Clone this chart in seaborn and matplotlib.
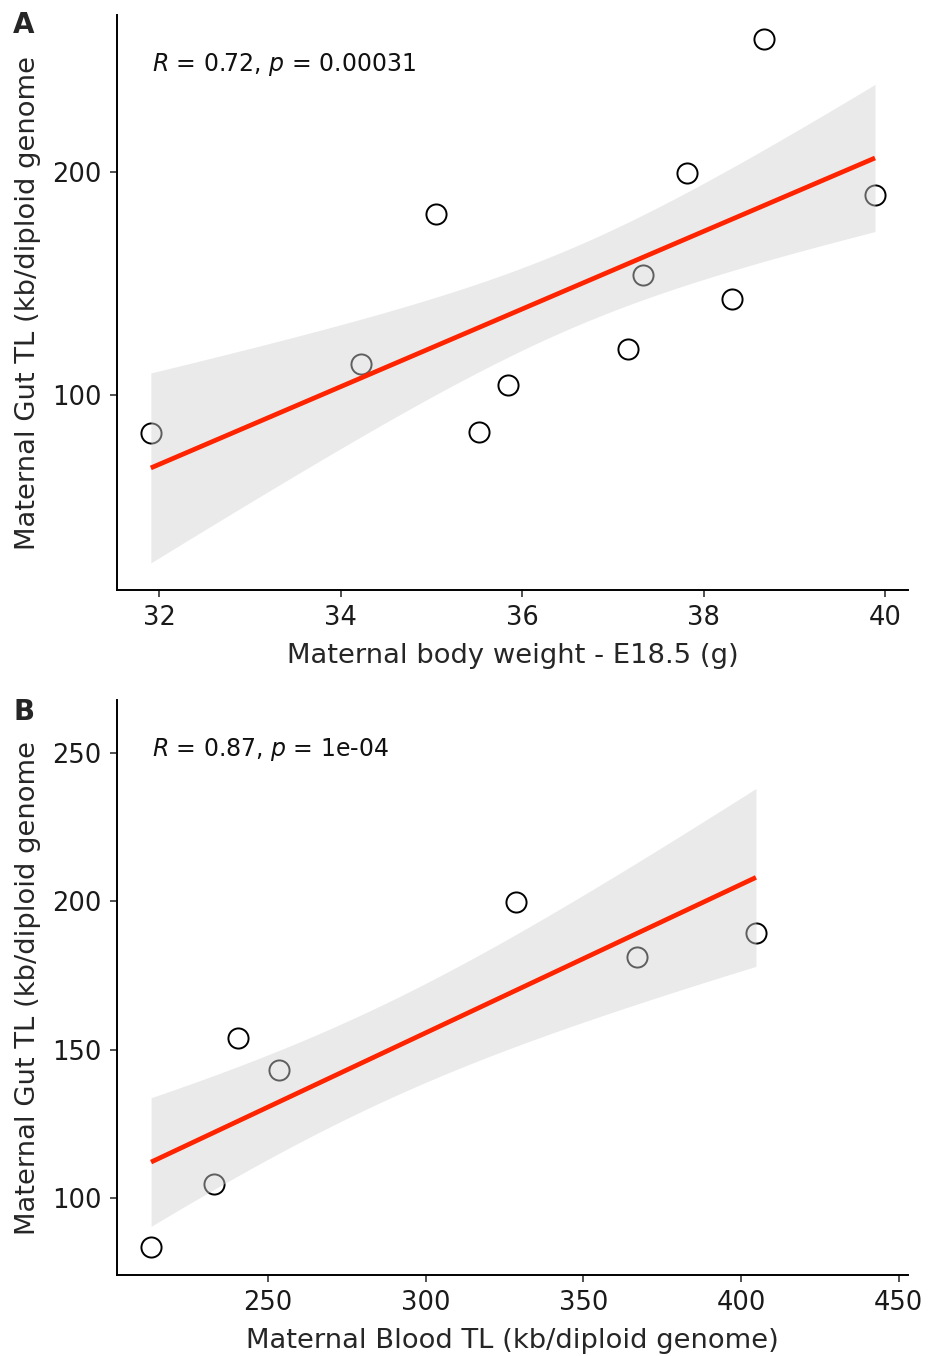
import numpy as np
import pandas as pd
import seaborn as sns
import matplotlib
matplotlib.use("Agg")
import matplotlib.pyplot as plt

# ---- data ----
weight_g = [31.91, 34.23, 35.05, 35.53, 35.85, 37.17, 37.33, 37.82, 38.31, 38.67, 39.89]
gut_tl_a = [83.0, 113.9, 181.2, 83.4, 104.5, 120.6, 153.8, 199.6, 143.0, 259.6, 189.7]

blood_tl = [212.9, 232.9, 240.5, 253.5, 328.6, 367.0, 404.7]
gut_tl_b = [83.5, 104.7, 154.0, 143.3, 199.7, 181.1, 189.5]

# fitted regression line (value at the ends of the x range) and 95% CI
# half-widths
fit_x_a = [31.91, 39.89]
fit_y_a = [67.3, 206.3]
ci_x_a = [31.91, 36.0, 39.89]
ci_half_a = [42.6, 18.5, 33.0]

fit_x_b = [212.9, 404.7]
fit_y_b = [112.1, 208.1]
ci_x_b = [212.9, 309.0, 404.7]
ci_half_b = [21.7, 17.2, 30.0]

stat_a = r"$\it{R}$ = 0.72, $\it{p}$ = 0.00031"
stat_b = r"$\it{R}$ = 0.87, $\it{p}$ = 1e-04"

xticks_a = [32, 34, 36, 38, 40]
yticks_a = [100, 200]
xticks_b = [250, 300, 350, 400, 450]
yticks_b = [100, 150, 200, 250]

xlab_a = "Maternal body weight - E18.5 (g)"
xlab_b = "Maternal Blood TL (kb/diploid genome)"
ylab = "Maternal Gut TL (kb/diploid genome"

sns.set_theme(style="ticks")
plt.rcParams['font.family'] = ['DejaVu Sans']
plt.rcParams['mathtext.fontset'] = 'dejavusans'

LINE = '#FF2400'
RIB = '#D2D2D2'


def band(fit_x, fit_y, ci_x, ci_half, n=200):
    xg = np.linspace(fit_x[0], fit_x[1], n)
    slope = (fit_y[1] - fit_y[0]) / (fit_x[1] - fit_x[0])
    fit = fit_y[0] + slope * (xg - fit_x[0])
    # OLS confidence band is hyperbolic: h^2 is quadratic in x
    coef = np.polyfit(ci_x, np.square(ci_half), 2)
    h = np.sqrt(np.clip(np.polyval(coef, xg), 0, None))
    return xg, fit, fit - h, fit + h


def panel(ax, x, y, fit_x, fit_y, ci_x, ci_half, xlab, xticks, yticks,
          xlim, ylim, stat, letter, letter_top):
    df = pd.DataFrame({"x": x, "y": y})
    sns.scatterplot(data=df, x="x", y="y", ax=ax, s=210, facecolor='white',
                    edgecolor='black', linewidth=1.4, zorder=2)
    xg, fit, lo, hi = band(fit_x, fit_y, ci_x, ci_half)
    ax.fill_between(xg, lo, hi, color=RIB, alpha=0.45, linewidth=0, zorder=3)
    ax.plot(xg, fit, color=LINE, lw=3.4, zorder=4, solid_capstyle='butt')
    ax.set_xlim(*xlim)
    ax.set_ylim(*ylim)
    ax.set_xticks(xticks)
    ax.set_yticks(yticks)
    ax.set_xlabel(xlab, fontsize=19.7, labelpad=8.5)
    ax.set_ylabel(ylab, fontsize=19.7, labelpad=8)
    ax.tick_params(labelsize=18.5, length=5, width=1.2, pad=6,
                   color='#333333', labelcolor='#1a1a1a')
    for sp in ['top', 'right']:
        ax.spines[sp].set_visible(False)
    for sp in ['left', 'bottom']:
        ax.spines[sp].set_linewidth(1.4)
        ax.spines[sp].set_color('black')
    ax.text(0.044, 0.9026, stat, transform=ax.transAxes, fontsize=17,
            va='baseline', ha='left', color='#111111')
    ax.figure.text(13 / 930, 1 - letter_top / 1356, letter, fontsize=20,
                   fontweight='bold', va='top', ha='left')


fig = plt.figure(figsize=(9.3, 13.56), dpi=100)
ax_a = fig.add_axes([0.1258, 0.5649, 0.8505, 0.4240])
ax_b = fig.add_axes([0.1258, 0.0597, 0.8505, 0.4240])

panel(ax_a, weight_g, gut_tl_a, fit_x_a, fit_y_a, ci_x_a, ci_half_a,
      xlab_a, xticks_a, yticks_a, (31.537, 40.253), (12.56, 270.4),
      stat_a, "A", 11)
panel(ax_b, blood_tl, gut_tl_b, fit_x_b, fit_y_b, ci_x_b, ci_half_b,
      xlab_b, xticks_b, yticks_b, (202.1, 452.9), (74.0, 267.9),
      stat_b, "B", 698)

fig.savefig("out.png", dpi=100)
